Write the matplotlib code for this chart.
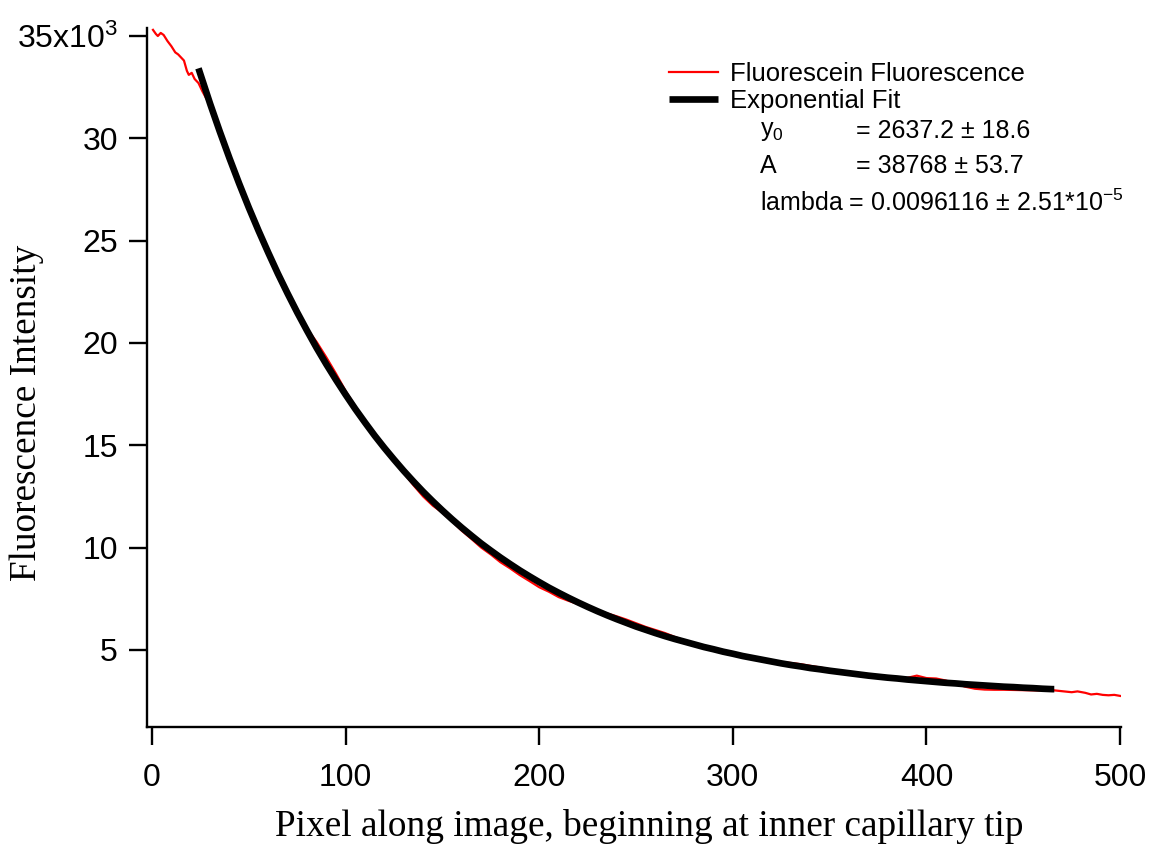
# Fluorescein fluorescence profile along the capillary with exponential fit
import numpy as np
import matplotlib.pyplot as plt
from matplotlib.ticker import FixedLocator, FuncFormatter

plt.rcParams['font.family'] = ['Liberation Sans', 'DejaVu Sans']
plt.rcParams['mathtext.fontset'] = 'custom'
plt.rcParams['mathtext.rm'] = 'Liberation Sans'
plt.rcParams['mathtext.it'] = 'Liberation Sans'

# DATA (intensity in thousands of counts)
pixel = [0.5, 2, 3, 4.5, 6, 8, 10, 12, 13.5, 15, 16.5, 18, 19, 20.5, 22, 24, 26, 28, 30,
         35, 40, 45, 50, 55, 60, 65, 70, 75, 80, 85, 90, 95, 100, 105, 110, 115, 120,
         125, 130, 135, 140, 145, 150, 155, 160, 165, 170, 175, 180, 185, 190, 195, 200,
         205, 210, 215, 220, 225, 230, 235, 240, 245, 250, 255, 260, 265, 270, 275, 280,
         285, 290, 295, 300, 305, 310, 315, 320, 325, 330, 335, 340, 345, 350, 355, 360,
         365, 370, 375, 380, 385, 390, 395, 400, 405, 410, 415, 420, 425, 430, 435, 440,
         445, 450, 455, 460, 465, 470, 475, 478, 482, 485, 488, 491, 494, 497, 500]
fluor_k = [35.3, 35.1, 35.0, 35.15, 35.05, 34.75, 34.5, 34.2, 34.1, 33.95, 33.8, 33.3, 33.1, 33.2,
           32.9, 32.7, 32.3, 31.95, 31.6,
           30.35, 29.0, 27.9, 26.6, 25.5, 24.4, 23.4, 22.5, 21.5, 20.7, 20.05, 19.3, 18.5,
           17.65, 16.9, 16.15, 15.5, 14.8, 14.3, 13.65, 13.05, 12.5, 12.05, 11.7, 11.28,
           10.82, 10.42, 10.0, 9.66, 9.28, 8.98, 8.65, 8.36, 8.06, 7.84, 7.58, 7.4, 7.24, 7.08,
           6.92, 6.78, 6.64, 6.48, 6.3, 6.12, 5.97, 5.82, 5.63, 5.46, 5.28, 5.15, 5.03, 4.92,
           4.8, 4.72, 4.63, 4.56, 4.48, 4.4, 4.36, 4.3, 4.22, 4.14, 4.05, 3.96, 3.88, 3.83,
           3.78, 3.73, 3.71, 3.67, 3.63, 3.74, 3.62, 3.6, 3.5, 3.35, 3.2, 3.1, 3.06, 3.05,
           3.05, 3.04, 3.03, 3.02, 3.01, 3.03, 2.98, 2.93, 2.97, 2.9, 2.82, 2.85, 2.8, 2.78,
           2.8, 2.75]

fit_pixel = [24, 30, 35, 40, 45, 50, 55, 60, 65, 70, 75, 80, 85, 90, 95, 100, 105, 110, 115,
             120, 125, 130, 135, 140, 145, 150, 155, 160, 165, 170, 175, 180, 185, 190, 195,
             200, 205, 210, 215, 220, 225, 230, 235, 240, 245, 250, 255, 260, 265, 270, 275,
             280, 285, 290, 295, 300, 305, 310, 315, 320, 325, 330, 335, 340, 345, 350, 355,
             360, 365, 370, 375, 380, 385, 390, 395, 400, 405, 410, 415, 420, 425, 430, 435,
             440, 445, 450, 455, 460, 465, 466]
fit_k = [33.42, 31.69, 30.33, 29.03, 27.79, 26.61, 25.49, 24.42, 23.39, 22.42, 21.49, 20.61,
         19.76, 18.96, 18.20, 17.47, 16.77, 16.11, 15.47, 14.87, 14.30, 13.75, 13.23, 12.73,
         12.26, 11.81, 11.38, 10.97, 10.58, 10.20, 9.85, 9.51, 9.19, 8.88, 8.59, 8.31, 8.04,
         7.79, 7.55, 7.32, 7.10, 6.89, 6.69, 6.50, 6.32, 6.14, 5.98, 5.82, 5.67, 5.53, 5.40,
         5.27, 5.14, 5.03, 4.91, 4.81, 4.70, 4.61, 4.52, 4.43, 4.34, 4.26, 4.19, 4.11, 4.05,
         3.98, 3.92, 3.86, 3.80, 3.74, 3.69, 3.64, 3.60, 3.55, 3.51, 3.47, 3.43, 3.39, 3.36,
         3.32, 3.29, 3.26, 3.23, 3.20, 3.18, 3.15, 3.13, 3.10, 3.08, 3.08]

x_ticks = [0, 100, 200, 300, 400, 500]
y_ticks = [5000, 10000, 15000, 20000, 25000, 30000, 35000]

fit_params = [("y$_0$", "= 2637.2 ± 18.6"),
              ("A", "= 38768 ± 53.7")]
lambda_text = "lambda = 0.0096116 ± 2.51*10$^{-5}$"

intensity = np.array(fluor_k) * 1000
fit_intensity = np.array(fit_k) * 1000

# PLOT
fig = plt.figure(figsize=(11.51, 8.49), dpi=100)
ax = fig.add_axes([0.1277, 0.1437, 0.8463, 0.8233])

ax.plot(pixel, intensity, color="#ff0000", lw=1.6, label="Fluorescein Fluorescence")
ax.plot(fit_pixel, fit_intensity, color="black", lw=4.8, solid_capstyle="butt",
        label="Exponential Fit")

ax.set_xlim(-2.6, 500.5)
ax.set_ylim(1230, 35390)

for s in ["top", "right"]:
    ax.spines[s].set_visible(False)
for s in ["left", "bottom"]:
    ax.spines[s].set_linewidth(1.7)

ax.xaxis.set_major_locator(FixedLocator(x_ticks))
ax.yaxis.set_major_locator(FixedLocator(y_ticks))


def y_fmt(v, pos):
    if v == 35000:
        return "35x10$^{\\mathrm{3}}$"
    return "%d" % (v / 1000)


ax.yaxis.set_major_formatter(FuncFormatter(y_fmt))
ax.tick_params(axis="both", direction="out", length=13, width=1.7, labelsize=23)
ax.tick_params(axis="x", pad=13)
ax.tick_params(axis="y", pad=8)

ax.set_xlabel("Pixel along image, beginning at inner capillary tip",
              family="Liberation Serif", fontsize=26.8)
ax.set_ylabel("Fluorescence Intensity", family="Liberation Serif", fontsize=26.8)
ax.xaxis.set_label_coords(0.516, -0.142)
ax.xaxis.label.set_va("center")
ax.yaxis.set_label_coords(-0.123, 0.449)
ax.yaxis.label.set_va("center")

leg = ax.legend(loc="center left", bbox_to_anchor=(0.536, 0.915), frameon=False,
                fontsize=18.5, handlelength=1.9, handletextpad=0.47, labelspacing=0.14,
                borderaxespad=0, borderpad=0)

row_y = [0.8526, 0.8026]
for (name, val), yy in zip(fit_params, row_y):
    ax.text(0.6294, yy, name, transform=ax.transAxes, fontsize=18, va="center")
    ax.text(0.728, yy, val, transform=ax.transAxes, fontsize=18, va="center")
ax.text(0.6294, 0.7496, lambda_text, transform=ax.transAxes, fontsize=18, va="center")

plt.savefig("out.png", dpi=100)
